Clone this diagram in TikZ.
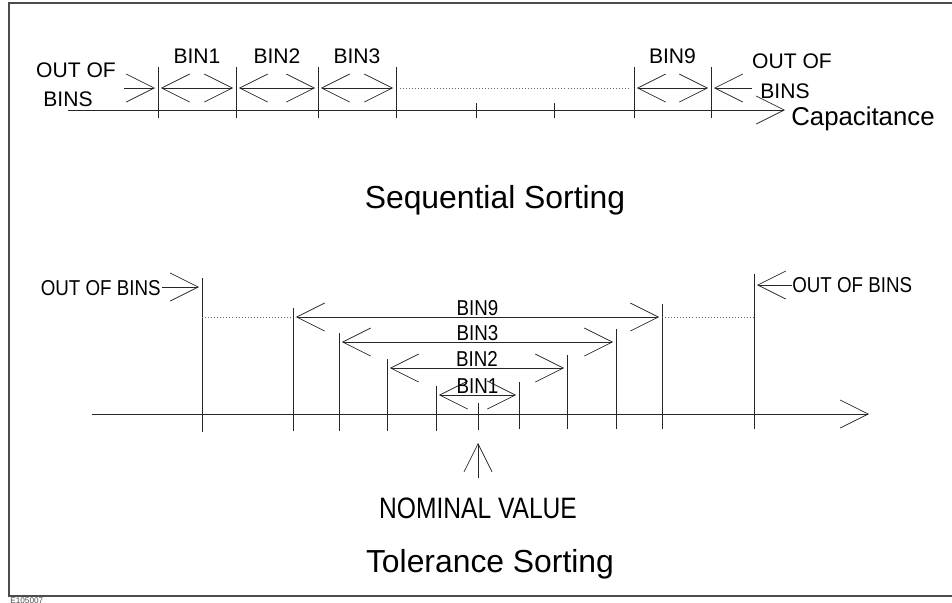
\documentclass[tikz,border=0pt]{standalone}
\usepackage{fontspec}
\setmainfont{Liberation Sans}
\usetikzlibrary{arrows.meta, positioning, calc}

\begin{document}
\begin{tikzpicture}[
    x=0.03cm, y=-0.03cm,
    line width=0.6pt, color=black!85,
    >={Straight Barb[length=0.84cm, width=0.84cm]},
    every node/.style={inner sep=0pt, text=black},
    lbl/.style={font=\fontsize{18}{18}\selectfont},
    sublbl/.style={font=\fontsize{16}{16}\selectfont, transform shape, yscale=1.15},
    caplbl/.style={font=\fontsize{22}{22}\selectfont},
    nomlbl/.style={font=\fontsize{21}{21}\selectfont, transform shape, yscale=1.2},
    title/.style={font=\fontsize{27.2}{27.2}\selectfont},
    binarrow/.style={<->, shorten <=2.5pt, shorten >=2.5pt},
    gapline/.style={dotted, black!60},
    frame/.style={draw=black!70, line width=1.2pt}
    ]
    \useasboundingbox (0,0) rectangle (952,602);
    \draw[frame] (952,3) -- (9,3) -- (9,596) -- (952,596);
    \node[font=\fontsize{7}{7}\selectfont, anchor=north west, text=black!70] (fig) at (10,597) {E105007};

    % sequential sorting
    \coordinate (sa) at (68,110);
    \coordinate (sb) at (785,110);
    \draw[->] (sa) -- (sb) node[caplbl, anchor=base west, shift={(6,15)}] (capt) {Capacitance};
    \foreach \x [count=\i] in {158,236,318,396,634,711} {
        \coordinate (s\i) at (\x,88);
        \draw (\x,67) -- (\x,118);
    }
    \foreach \x in {476,554}
        \draw (\x,103) -- (\x,118);
    \foreach \a/\b/\t in {1/2/BIN1, 2/3/BIN2, 3/4/BIN3, 5/6/BIN9}
        \draw[binarrow] (s\a) -- (s\b) node[lbl, midway, above=0.72cm] (sbin\a) {\t};
    \draw[gapline] ($(s4)+(4,0)$) -- ($(s5)+(-4,0)$);

    \coordinate (sl) at (124,88);
    \draw[->] (sl) -- ($(s1)+(-3,0)$);
    \node[lbl] (soutl) at (76,70) {OUT OF};
    \node[lbl] (sbinsl) at (68,99) {BINS};
    \coordinate (sr) at (752,88);
    \draw[->] (sr) -- ($(s6)+(3,0)$);
    \node[lbl] (soutr) at (792,61) {OUT OF};
    \node[lbl] (sbinsr) at (785,91) {BINS};

    \node[title, anchor=base] (seq) at (495,208) {Sequential Sorting};

    % tolerance sorting
    \coordinate (ta) at (92,414);
    \coordinate (tb) at (869,414);
    \draw[->] (ta) -- (tb);
    \foreach \n/\xl/\xr/\y in {9/293/662/317, 3/339/616/342, 2/387/567/368, 1/436/519/395} {
        \draw (\xl,\y-9) -- (\xl,431);
        \draw (\xr,\y-13) -- (\xr,429);
        \coordinate (tl\n) at (\xl,\y);
        \coordinate (tr\n) at (\xr,\y);
        \draw[binarrow] (tl\n) -- (tr\n) node[sublbl, midway, above=1pt] (tbin\n) {BIN\n};
    }
    \draw (478,403) -- (478,430);
    \draw (202,278) -- (202,432);
    \draw (754,274) -- (754,429);

    \coordinate (dl) at (202,317);
    \coordinate (dr) at (754,317);
    \draw[gapline] (dl) -- (tl9);
    \draw[gapline] (tr9) -- (dr);

    \coordinate (tlo) at (162,287);
    \draw[->] (tlo) -- (199,287);
    \node[sublbl, anchor=east] (toutl) at (161,288) {OUT OF BINS};
    \coordinate (tro) at (792,285);
    \draw[->] (tro) -- (757,285);
    \node[sublbl, anchor=west] (toutr) at (792,285) {OUT OF BINS};

    \coordinate (nom) at (478,478);
    \draw[->] (nom) -- ++(0,-35);
    \node[nomlbl, below=0.57cm of nom] (nomval) {NOMINAL VALUE};

    \node[title, anchor=base] (tol) at (490,572) {Tolerance Sorting};
\end{tikzpicture}
\end{document}
